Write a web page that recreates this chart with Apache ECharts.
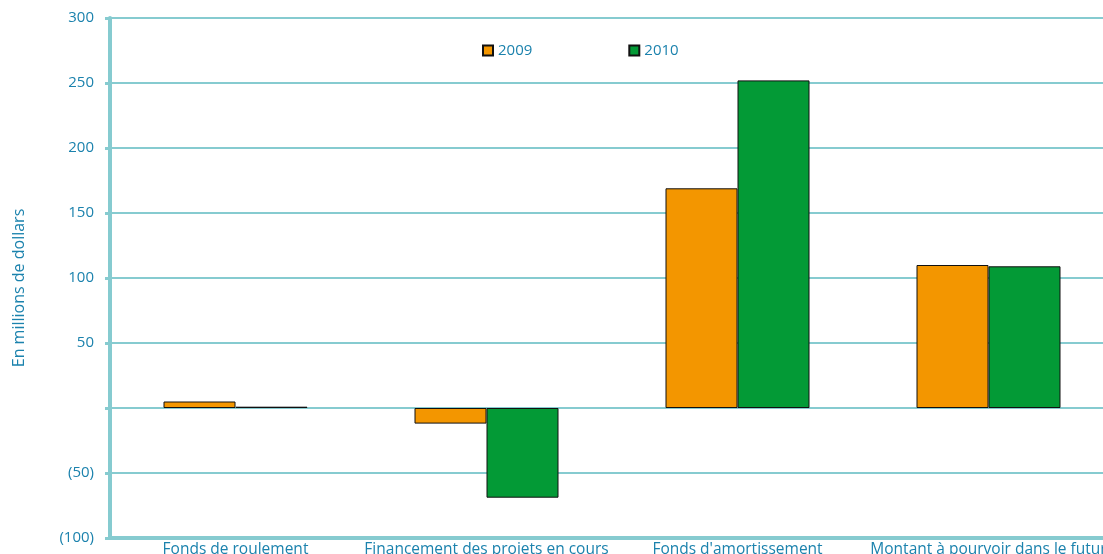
<!DOCTYPE html>
<html><head><meta charset="utf-8">
<script src="https://cdn.jsdelivr.net/npm/echarts@6/dist/echarts.min.js"></script>
<style>html,body{margin:0;padding:0;background:#fff}#c{width:1103px;height:554px}</style>
</head><body><div id="c"></div>
<script>
const categories = ["Fonds de roulement", "Financement des projets en cours", "Fonds d'amortissement", "Montant à pourvoir dans le futur"];
const values2009 = [5, -12, 169, 110];
const values2010 = [1, -69, 252, 109];
const seriesNames = ["2009", "2010"];
const yTicks = [-100, -50, 0, 50, 100, 150, 200, 250, 300];

const blue = '#1b82ad';
const axisColor = '#86cbd0';
const font = 'Open Sans';
const chart = echarts.init(document.getElementById('c'));
chart.setOption({
  animation: false,
  textStyle: {fontFamily: font},
  legend: {
    left: 477, top: 38, itemWidth: 10, itemHeight: 10, itemGap: 96, icon: 'rect',
    textStyle: {color: blue, fontSize: 15, fontFamily: font},
    data: seriesNames
  },
  grid: {left: 110, top: 18, right: -11, bottom: 16, containLabel: false, outerBoundsMode: 'none'},
  xAxis: {
    type: 'category', data: categories,
    axisLine: {onZero: false, lineStyle: {color: axisColor, width: 4}},
    axisTick: {show: false},
    axisLabel: {color: blue, fontSize: 15.5, margin: 4, interval: 0, fontFamily: font},
    splitLine: {show: false}
  },
  yAxis: {
    type: 'value', min: yTicks[0], max: yTicks[yTicks.length - 1], interval: 50,
    name: 'En millions de dollars', nameLocation: 'middle', nameGap: 83, nameRotate: 90,
    nameTextStyle: {color: blue, fontSize: 16, fontFamily: font, padding: [0, 20, 0, 0]},
    axisLine: {show: true, lineStyle: {color: axisColor, width: 4}},
    axisTick: {show: true, length: 5, lineStyle: {color: axisColor, width: 3}},
    axisLabel: {color: blue, fontSize: 15, margin: 16, fontFamily: font,
      formatter: v => v === 0 ? '' : (v < 0 ? '(' + (-v) + ')' : String(v))},
    splitLine: {show: true, lineStyle: {color: axisColor, width: 2}}
  },
  series: [
    {name: seriesNames[0], type: 'bar', data: values2009, barWidth: 72, barGap: '0%',
      itemStyle: {color: '#f39600', borderColor: '#111', borderWidth: 1}},
    {name: seriesNames[1], type: 'bar', data: values2010, barWidth: 72, barGap: '0%',
      itemStyle: {color: '#039a36', borderColor: '#111', borderWidth: 1}}
  ]
});
</script></body></html>
